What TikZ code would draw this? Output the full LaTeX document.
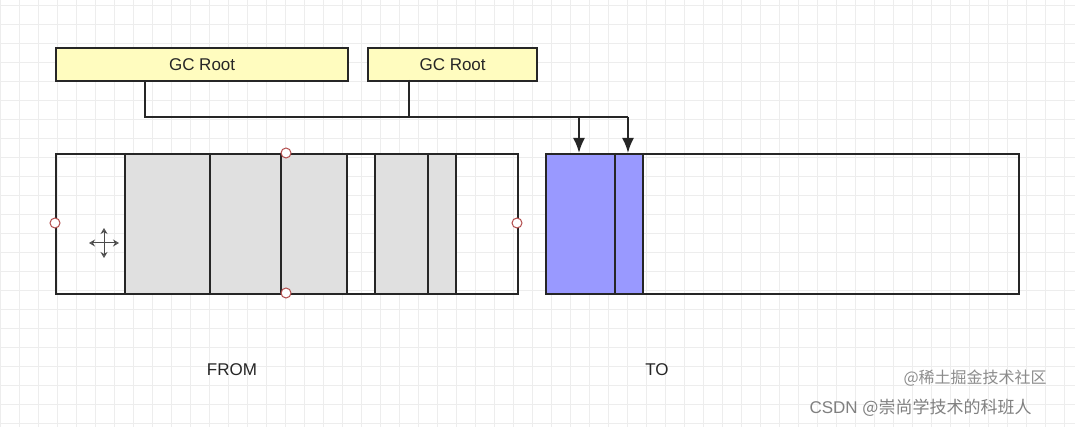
\documentclass[tikz,border=0pt]{standalone}
\usepackage{fontspec}
\setmainfont{Liberation Sans}
\newfontfamily\cjk{Noto Sans CJK SC}
\usetikzlibrary{arrows.meta}
\begin{document}
\begin{tikzpicture}[x=1pt,y=-1pt,
  box/.style={draw=black!85,line width=2.2pt},
  root/.style={box,fill=yellow!25!white},
  lbl/.style={font=\fontsize{17}{19}\selectfont,text=black!85},
  conn/.style={draw=black!85,line width=2.2pt},
  arr/.style={conn,-{Latex[length=15pt,width=12pt]}},
  handle/.style={circle,draw=red!40!gray,fill=white,inner sep=0pt,minimum size=10pt,line width=1pt}]
\useasboundingbox (0,0) rectangle (1075,427);
\fill[white] (0,0) rectangle (1075,427);
\foreach \x in {0,19,...,1075} \draw[black!7,line width=0.7pt] (\x,0) -- (\x,427);
\foreach \y in {5,24,...,427} \draw[black!7,line width=0.7pt] (0,\y) -- (1075,\y);
% GC roots
\node[root,minimum width=292pt,minimum height=33pt,inner sep=0pt,anchor=north west,lbl] (g1) at (55,47) {GC Root};
\node[root,minimum width=169pt,minimum height=33pt,inner sep=0pt,anchor=north west,lbl] (g2) at (367,47) {GC Root};
% FROM
\fill[black!12] (125,153) rectangle (347,293);
\fill[black!12] (375,153) rectangle (456,293);
\node[box,minimum width=462pt,minimum height=140pt,inner sep=0pt,anchor=north west] (from) at (55,153) {};
\foreach \x in {125,210,281,347,375,428,456} \draw[conn] (\x,153) -- (\x,293);
% TO
\fill[blue!40!white] (545,153) rectangle (643,293);
\node[box,minimum width=473pt,minimum height=140pt,inner sep=0pt,anchor=north west] (to) at (545,153) {};
\draw[conn] (615,153) -- (615,293);
\draw[conn] (643,153) -- (643,293);
% connectors
\coordinate (j1) at (145,117);
\coordinate (t1) at (579,153);
\coordinate (t2) at (628,153);
\draw[conn] (g1.south -| j1) -- (j1) -- (628,117);
\draw[conn] (409,80) -- (409,117);
\draw[arr] (579,117) -- (t1);
\draw[arr] (628,117) -- (t2);
% handles
\node[handle] (h1) at (55,223) {};
\node[handle] (h2) at (517,223) {};
\node[handle] (h3) at (286,153) {};
\node[handle] (h4) at (286,293) {};
% move cursor
\draw[black!70,line width=1pt,{Stealth[length=6pt,width=7pt,open]}-{Stealth[length=6pt,width=7pt,open]}] (89,243) -- (119,243);
\draw[black!70,line width=1pt,{Stealth[length=6pt,width=7pt,open]}-{Stealth[length=6pt,width=7pt,open]}] (104,228) -- (104,258);
% labels
\node[lbl] (lf) at (232,370) {FROM};
\node[lbl] (lt) at (657,370) {TO};
\node[text=black!45,font=\fontsize{16}{18}\cjk,anchor=west] (wm2) at (900,378) {@稀土掘金技术社区};
\node[text=black!50,font=\fontsize{17}{19}\selectfont,anchor=west] (wm1) at (806,408) {CSDN {\cjk @崇尚学技术的科班人}};
\end{tikzpicture}
\end{document}
